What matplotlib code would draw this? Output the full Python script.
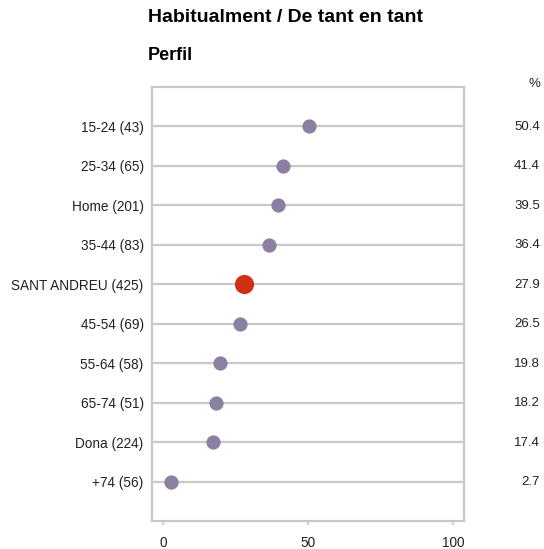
import matplotlib.pyplot as plt

plt.rcParams['font.family'] = ['Liberation Sans', 'DejaVu Sans']

categories = ['15-24 (43)', '25-34 (65)', 'Home (201)', '35-44 (83)', 'SANT ANDREU (425)',
              '45-54 (69)', '55-64 (58)', '65-74 (51)', 'Dona (224)', '+74 (56)']
values = [50.4, 41.4, 39.5, 36.4, 27.9, 26.5, 19.8, 18.2, 17.4, 2.7]
highlight = 'SANT ANDREU (425)'
xticks = [0, 50, 100]

fig = plt.figure(figsize=(5.44, 5.49), dpi=100)
W, H = 544, 549
ax = fig.add_axes([152 / W, 1 - 521 / H, (464 - 152) / W, (521 - 87) / H])

grey = '#c8c8c8'
txt = '#222222'
for i, (cat, v) in enumerate(zip(categories, values)):
    ax.axhline(i, color=grey, lw=1.6, zorder=1)
    if cat == highlight:
        ax.scatter(v, i, s=190, color='#d23016', zorder=3, linewidths=0)
    else:
        ax.scatter(v, i, s=105, color='#8c80a2', zorder=3, linewidths=0)
    fig.text(540 / W, 1 - (127 + i * 39.44) / H, f'{v:.1f}', ha='right', va='center',
             fontsize=9.5, color=txt)

ax.set_xlim(-3.8, 103.8)
ax.set_ylim(10, -1)
ax.set_yticks(range(len(categories)))
ax.set_yticklabels(categories, fontsize=9.8, color=txt)
ax.tick_params(axis='y', length=0, pad=6)
ax.set_xticks(xticks)
ax.set_xticklabels([str(t) for t in xticks], fontsize=9.8, color=txt)
ax.tick_params(axis='x', length=3, width=1.2, color=grey, pad=8)
for s in ax.spines.values():
    s.set_color(grey)
    s.set_linewidth(1.6)

fig.text(148 / W, 1 - 18 / H, 'Habitualment / De tant en tant', fontsize=14, fontweight='bold',
         ha='left', va='center')
fig.text(148 / W, 1 - 55 / H, 'Perfil', fontsize=13, fontweight='bold', ha='left', va='center')
fig.text(540 / W, 1 - 84 / H, '%', fontsize=9.5, ha='right', va='center', color=txt)

fig.savefig('out.png', dpi=100)
